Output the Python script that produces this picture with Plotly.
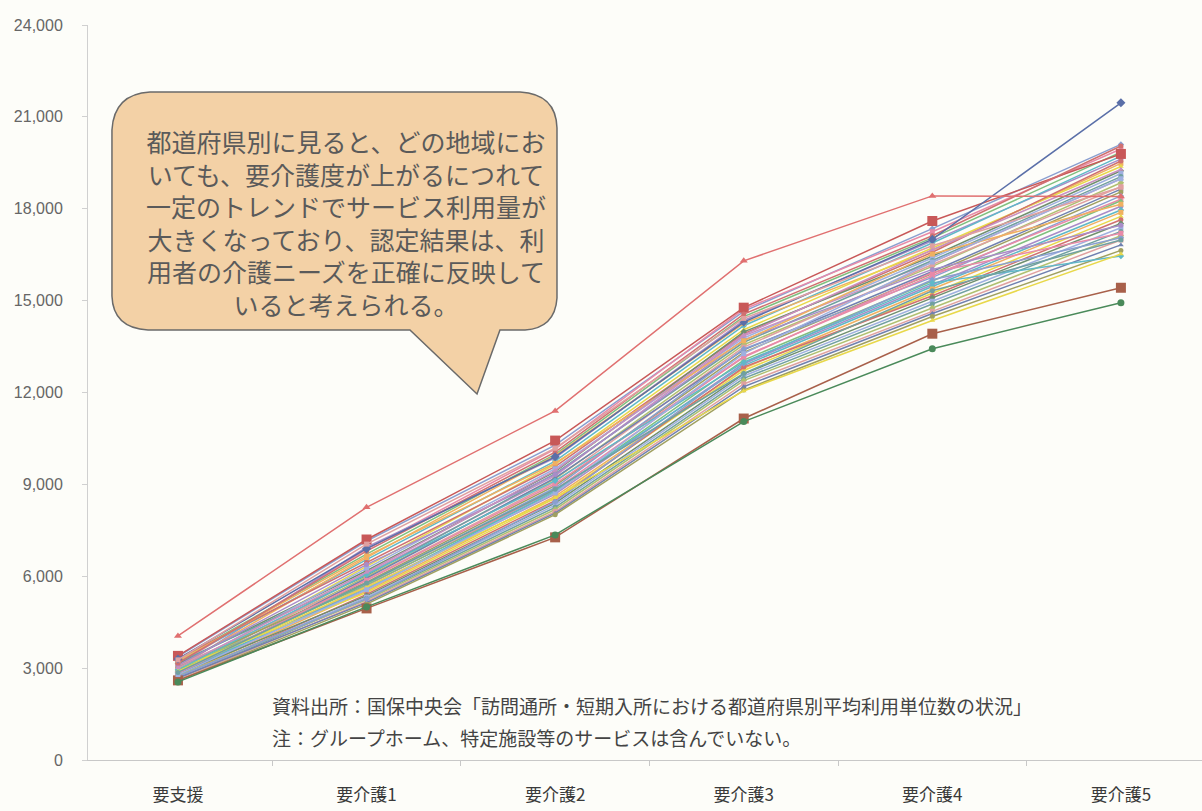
import plotly.graph_objects as go

categories = ["要支援", "要介護1", "要介護2", "要介護3", "要介護4", "要介護5"]

prefectures = ["北海道", "青森", "岩手", "宮城", "秋田", "山形", "福島", "茨城", "栃木", "群馬",
               "埼玉", "千葉", "東京", "神奈川", "新潟", "富山", "石川", "福井", "山梨", "長野",
               "岐阜", "静岡", "愛知", "三重", "滋賀", "京都", "大阪", "兵庫", "奈良", "和歌山",
               "鳥取", "島根", "岡山", "広島", "山口", "徳島", "香川", "愛媛", "高知", "福岡",
               "佐賀", "長崎", "熊本", "大分", "宮崎", "鹿児島", "沖縄"]

yoshien = [3380, 3120, 3260, 2980, 3210, 3050, 2890, 3310, 3140, 2960,
           2820, 3180, 2910, 3070, 2760, 3020, 2870, 2690, 2940, 2780,
           2850, 2720, 2990, 2660, 2810, 2700, 3400, 2640, 2750, 2620,
           2680, 2590, 2730, 2830, 2600, 3090, 2950, 3230, 2900, 3160,
           2550, 2790, 3010, 2860, 3300, 3270, 4050]
kaigo1 = [7150, 6880, 6720, 6950, 6540, 6610, 6320, 6450, 6180, 6260,
          6090, 6020, 5980, 5890, 5940, 5810, 5760, 5690, 5720, 5630,
          5580, 5520, 5470, 5410, 5360, 5320, 7200, 5270, 5230, 5180,
          5140, 5090, 5260, 5870, 4950, 6380, 6060, 6660, 5650, 6820,
          5000, 5560, 6130, 5780, 6900, 7050, 8250]
kaigo2 = [10280, 10150, 9980, 9870, 9760, 9940, 9650, 9580, 9420, 9510,
          9280, 9350, 9180, 9080, 9210, 8960, 8890, 8820, 8740, 8680,
          8790, 8610, 8540, 8470, 8390, 8320, 10430, 8250, 8180, 8110,
          8060, 8010, 8430, 9020, 7270, 9320, 9120, 9690, 8560, 10050,
          7350, 8720, 9450, 8840, 9900, 10180, 11400]
kaigo3 = [14650, 14720, 14480, 14350, 14180, 14260, 14050, 13920, 13980, 13780,
          13850, 13640, 13560, 13480, 13390, 13310, 13420, 13180, 13060, 12940,
          12880, 12790, 12720, 12830, 12610, 12540, 14770, 12460, 12390, 12280,
          12190, 12080, 12950, 13150, 11150, 13720, 12990, 13690, 12050, 14560,
          11050, 13270, 13880, 12620, 14300, 14420, 16300]
kaigo4 = [17350, 17250, 17050, 16950, 16880, 16640, 16720, 16580, 16450, 16390,
          16250, 16310, 16120, 16180, 15950, 15880, 15760, 15820, 15640, 15520,
          15460, 15380, 15240, 15160, 15090, 14980, 17600, 14890, 14760, 14650,
          14580, 14480, 15680, 15920, 13920, 16020, 15580, 16520, 14350, 17120,
          13430, 16260, 16660, 15320, 17000, 16790, 18420]
kaigo5 = [20100, 19950, 19850, 19620, 19720, 19480, 19380, 19560, 19240, 19150,
          18980, 19050, 18850, 18720, 18640, 18550, 18420, 18310, 18260, 18080,
          17960, 17880, 17750, 17640, 17520, 17380, 19790, 17260, 17120, 16980,
          16820, 16640, 17050, 17200, 15420, 17460, 16460, 18150, 16520, 20050,
          14930, 18980, 19280, 16980, 21460, 18700, 18400]

callout_text = ("都道府県別に見ると、どの地域にお<br>いても、要介護度が上がるにつれて<br>"
                "一定のトレンドでサービス利用量が<br>大きくなっており、認定結果は、利<br>"
                "用者の介護ニーズを正確に反映して<br>いると考えられる。")
source_text = "資料出所：国保中央会「訪問通所・短期入所における都道府県別平均利用単位数の状況」"
note_text = "注：グループホーム、特定施設等のサービスは含んでいない。"

palette = ["#8a9fd0", "#e88aa8", "#7fbf7f", "#a88cc8", "#5fb8c8", "#f0b060",
           "#e8d84a", "#d07070", "#6f8f6f", "#9fb0e0", "#c890c0", "#70a0a0",
           "#b0c070", "#e0a0a0", "#7080b0", "#a0a060"]
symbols = ["diamond", "square", "triangle-up", "circle"]
special = {
    26: dict(color="#c85858", symbol="square", size=10),
    34: dict(color="#a8604a", symbol="square", size=10),
    40: dict(color="#4a8a5a", symbol="circle", size=7),
    44: dict(color="#5a6fa8", symbol="diamond", size=7),
    46: dict(color="#e07070", symbol="triangle-up", size=7),
}

fig = go.Figure()
for i, name in enumerate(prefectures):
    vals = [yoshien[i], kaigo1[i], kaigo2[i], kaigo3[i], kaigo4[i], kaigo5[i]]
    if i in special:
        st = special[i]
    else:
        st = dict(color=palette[i % len(palette)], symbol=symbols[i % len(symbols)], size=5)
    fig.add_trace(go.Scatter(
        x=categories, y=vals, name=name, mode="lines+markers",
        line=dict(color=st["color"], width=1.5),
        marker=dict(color=st["color"], symbol=st["symbol"], size=st["size"]),
    ))

# plot area in pixels
L, R, T, B = 88, 1202, 25, 760


def px(x):
    return (x - L) / (R - L)


def py(y):
    return (B - y) / (B - T)


def pt(x, y):
    return f"{px(x):.4f},{py(y):.4f}"


path = ("M " + pt(112, 130) +
        " Q " + pt(114, 94) + " " + pt(150, 92) +
        " L " + pt(520, 92) +
        " Q " + pt(556, 94) + " " + pt(557, 128) +
        " L " + pt(557, 298) +
        " Q " + pt(555, 328) + " " + pt(525, 330) +
        " L " + pt(500, 330) +
        " L " + pt(477, 394) +
        " L " + pt(410, 330) +
        " L " + pt(148, 330) +
        " Q " + pt(113, 328) + " " + pt(112, 296) +
        " Z")

fig.add_shape(type="path", path=path, xref="paper", yref="paper",
              fillcolor="#f3d1a6", line=dict(color="#6a6a6a", width=1.5), layer="above")

fig.add_annotation(text=callout_text, xref="paper", yref="paper",
                   x=px(346), y=py(222), xanchor="center", yanchor="middle",
                   showarrow=False, align="center",
                   font=dict(family="Noto Sans CJK JP", size=25, color="#5a5a5a"))
fig.add_annotation(text=source_text, xref="paper", yref="paper",
                   x=px(270), y=py(705), xanchor="left", yanchor="middle",
                   showarrow=False, font=dict(family="Noto Sans CJK JP", size=19, color="#444444"))
fig.add_annotation(text=note_text, xref="paper", yref="paper",
                   x=px(270), y=py(737), xanchor="left", yanchor="middle",
                   showarrow=False, font=dict(family="Noto Sans CJK JP", size=19, color="#444444"))

fig.update_layout(
    width=1202, height=811,
    margin=dict(l=L, r=1202 - R, t=T, b=811 - B),
    paper_bgcolor="#fdfdf9", plot_bgcolor="#fdfdf9",
    showlegend=False,
    xaxis=dict(type="category", range=[-0.477, 5.43], showline=True, linecolor="#c8c8c8",
               ticks="outside", tickson="boundaries", ticklen=5, tickcolor="#c8c8c8",
               showgrid=False, ticklabelstandoff=20,
               tickfont=dict(family="Noto Sans CJK JP", size=17, color="#3a3a3a")),
    yaxis=dict(range=[0, 24000], dtick=3000, tickformat=",", showline=True, linecolor="#d0d0d0",
               ticks="outside", ticklen=5, tickcolor="#d0d0d0", showgrid=False, zeroline=False,
               ticklabelstandoff=16,
               tickfont=dict(family="Liberation Sans Narrow, Liberation Sans, Arial", size=16,
                             color="#666666")),
)

fig.write_html("out.html")
